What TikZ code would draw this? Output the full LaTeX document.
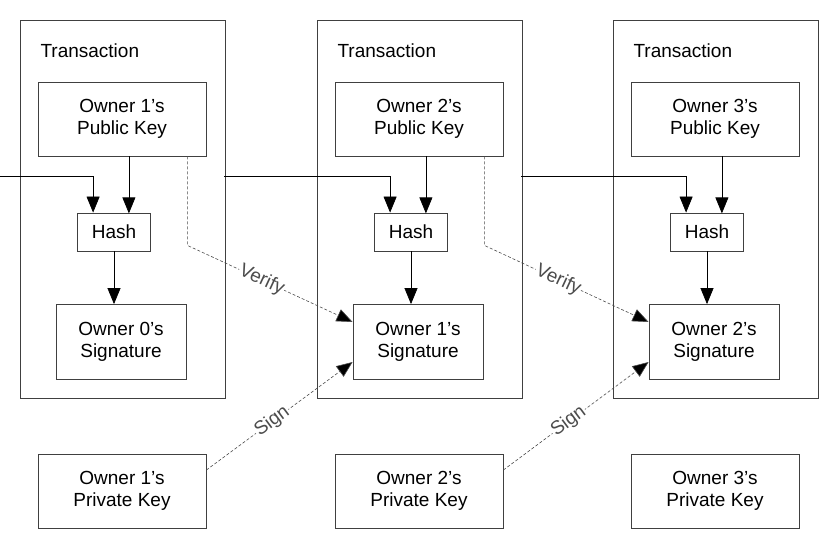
\documentclass[tikz,border=0pt]{standalone}
\usepackage{fontspec}
\setmainfont{Liberation Sans}
\usetikzlibrary{arrows.meta}
\newcommand{\ap}{\char39 }
\begin{document}
\begin{tikzpicture}[x=1pt,y=-1pt,
  box/.style={draw=black!75,line width=0.8pt,fill=white,inner sep=0pt,align=center,font=\fontsize{19}{22}\selectfont},
  tx/.style={draw=black!75,line width=0.8pt},
  arr/.style={line width=0.7pt,-{Triangle[length=16pt,width=13pt]}},
  dashline/.style={densely dashed,line width=0.6pt,black!70,-{Triangle[length=16pt,width=13pt,fill=black]}},
  lab/.style={font=\fontsize{19}{22}\selectfont,sloped,fill=white,inner sep=1pt}]
\useasboundingbox (0,0) rectangle (836,546);
\foreach \i/\x in {1/20,2/317,3/613}{
  \draw[tx] (\x,20) rectangle (\x+205,398);
  \node[anchor=west,font=\fontsize{19}{22}\selectfont] (t\i) at (\x+17,51) {Transaction};
}
\foreach \i/\c/\o in {1/122/0,2/419/1,3/715/2}{
  \pgfmathtruncatemacro{\n}{\i}
  \node[box,minimum width=168pt,minimum height=74pt] (pk\i) at (\c,119) {Owner \n\ap s\\Public Key};
  \node[box,minimum width=73pt,minimum height=38pt] (h\i) at (\c-8,232) {Hash};
  \node[box,minimum width=130pt,minimum height=75pt] (s\i) at (\c-1,342) {Owner \o\ap s\\Signature};
  \node[box,minimum width=168pt,minimum height=74pt] (pr\i) at (\c,491) {Owner \n\ap s\\Private Key};
  \draw[arr] (pk\i.south -| h\i.north east) ++(-22,0) -- ++(0,57);
  \draw[arr] (h\i.south) -- (h\i.south |- s\i.north);
}
\coordinate (l0) at (0,176);
\coordinate (r1) at (224,176);
\coordinate (r2) at (521,176);
\draw[arr] (l0) -| ([xshift=16pt]h1.north west);
\draw[arr] (r1) -| ([xshift=16pt]h2.north west);
\draw[arr] (r2) -| ([xshift=16pt]h3.north west);
\draw[dashline] ([xshift=-19pt]pk1.south east) -- ++(0,89) -- node[lab,pos=0.45]{Verify} ([yshift=20pt]s2.west);
\draw[dashline] ([xshift=-19pt]pk2.south east) -- ++(0,89) -- node[lab,pos=0.45]{Verify} ([yshift=20pt]s3.west);
\draw[dashline] ([yshift=21pt]pr1.east) -- node[lab,pos=0.45]{Sign} ([yshift=-20pt]s2.west);
\draw[dashline] ([yshift=21pt]pr2.east) -- node[lab,pos=0.45]{Sign} ([yshift=-20pt]s3.west);
\end{tikzpicture}
\end{document}
